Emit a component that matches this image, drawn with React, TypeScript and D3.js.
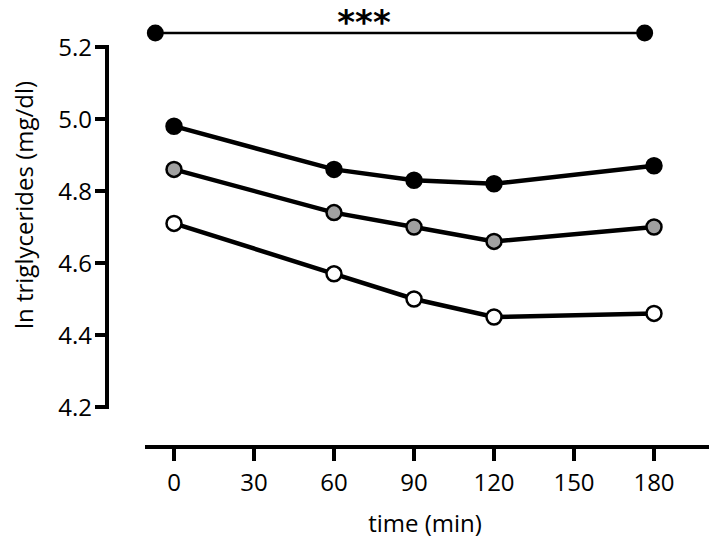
import React from "react";
import * as d3 from "d3";

const times = [0, 60, 90, 120, 180];
const seriesBlack = [4.98, 4.86, 4.83, 4.82, 4.87];
const seriesGray = [4.86, 4.74, 4.70, 4.66, 4.70];
const seriesWhite = [4.71, 4.57, 4.50, 4.45, 4.46];
const xTicks = [0, 30, 60, 90, 120, 150, 180];
const yTicks = [4.2, 4.4, 4.6, 4.8, 5.0, 5.2];
const sigBracket = [-7, 176.5];
const sigLabel = "***";

const W = 720;
const H = 549;
const FONT = "'Open Sans', Lato, sans-serif";

export default function App() {
  const x = d3.scaleLinear().domain([0, 180]).range([174, 654]);
  const y = d3.scaleLinear().domain([4.2, 5.2]).range([407, 47]);
  const line = d3
    .line<number>()
    .x((_, i) => x(times[i]))
    .y((d) => y(d));

  const series = [
    { values: seriesWhite, fill: "#ffffff" },
    { values: seriesGray, fill: "#a0a0a0" },
    { values: seriesBlack, fill: "#000000" },
  ];

  const sigY = 33;
  const xAxisY = 447;
  const yAxisX = 107;

  return (
    <svg
      width={W}
      height={H}
      style={{ position: "absolute", left: 0, top: 0, background: "#fff" }}
      fontFamily={FONT}
    >
      <rect width={W} height={H} fill="#fff" />
      {/* Y axis */}
      <line x1={yAxisX} x2={yAxisX} y1={y(5.2) - 2} y2={y(4.2) + 2} stroke="#000" strokeWidth={4} />
      {yTicks.map((t) => (
        <g key={t}>
          <line x1={95} x2={yAxisX} y1={y(t)} y2={y(t)} stroke="#000" strokeWidth={4} />
          <text x={92} y={y(t)} dy="0.36em" textAnchor="end" fontSize={24} fill="#000">
            {d3.format(".1f")(t)}
          </text>
        </g>
      ))}
      <text
        transform={`translate(24, 205) rotate(-90)`}
        textAnchor="middle"
        dy="0.36em"
        fontSize={24}
        fill="#000"
      >
        ln triglycerides (mg/dl)
      </text>

      {/* X axis */}
      <line x1={145} x2={709} y1={xAxisY} y2={xAxisY} stroke="#000" strokeWidth={4} />
      {xTicks.map((t) => (
        <g key={t}>
          <line x1={x(t)} x2={x(t)} y1={xAxisY} y2={xAxisY + 14} stroke="#000" strokeWidth={4} />
          <text x={x(t)} y={482} dy="0.36em" textAnchor="middle" fontSize={24} fill="#000">
            {t}
          </text>
        </g>
      ))}
      <text x={425} y={523} dy="0.36em" textAnchor="middle" fontSize={24} fill="#000">
        time (min)
      </text>

      {/* significance */}
      <line
        x1={x(sigBracket[0])}
        x2={x(sigBracket[1])}
        y1={sigY}
        y2={sigY}
        stroke="#000"
        strokeWidth={2.5}
      />
      {sigBracket.map((t, i) => (
        <circle key={i} cx={x(t)} cy={sigY} r={8.5} fill="#000" />
      ))}
      <text
        x={364}
        y={34}
        textAnchor="middle"
        fontSize={34}
        fontWeight="bold"
        fontFamily="'DejaVu Sans', sans-serif"
        fill="#000"
      >
        {sigLabel}
      </text>

      {/* series */}
      {series.map((s, si) => (
        <g key={si}>
          <path d={line(s.values) || ""} fill="none" stroke="#000" strokeWidth={4.5} />
          {s.values.map((v, i) => (
            <circle
              key={i}
              cx={x(times[i])}
              cy={y(v)}
              r={7.5}
              fill={s.fill}
              stroke="#000"
              strokeWidth={2.5}
            />
          ))}
        </g>
      ))}
    </svg>
  );
}
